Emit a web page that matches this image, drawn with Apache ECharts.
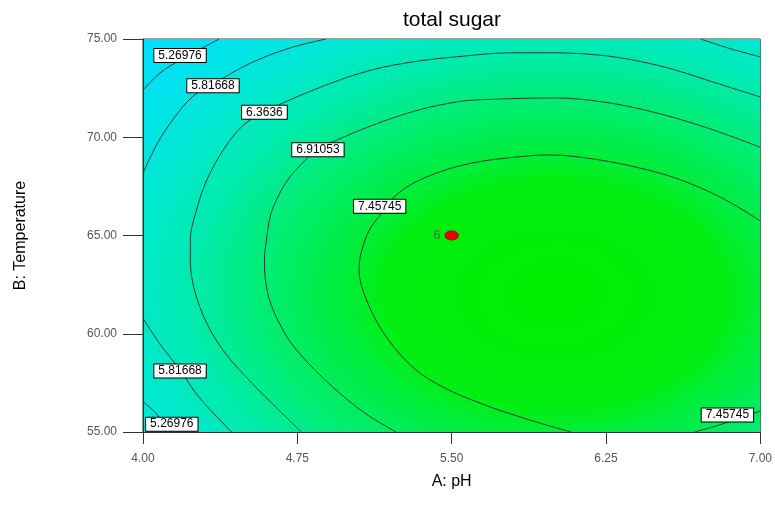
<!DOCTYPE html>
<html>
<head>
<meta charset="utf-8">
<title>total sugar</title>
<script src="https://cdn.jsdelivr.net/npm/echarts@6/dist/echarts.min.js"></script>
<style>
  html, body { margin: 0; padding: 0; background: #fff; }
  #chart { width: 775px; height: 518px; }
</style>
</head>
<body>
<div id="chart"></div>
<script>
// axis ticks
const pHTicks = [4.0, 4.75, 5.5, 6.25, 7.0];
const tempTicks = [55, 60, 65, 70, 75];

// contour lines, [pH, temperature]
const c526Top = [[4.00, 72.40], [4.08, 73.25], [4.18, 73.93], [4.27, 74.44], [4.37, 75.00]];
const c526Bottom = [[4.00, 56.54], [4.07, 55.87], [4.11, 55.00]];
const c582Top = [[4.00, 68.17], [4.07, 69.69], [4.15, 70.96], [4.24, 72.06], [4.36, 72.83],
  [4.52, 73.76], [4.71, 74.53], [4.89, 75.00]];
const c582Right = [[6.71, 75.00], [6.85, 74.52], [7.00, 74.09]];
const c582Bottom = [[4.00, 60.79], [4.08, 59.51], [4.18, 58.16], [4.27, 56.80], [4.43, 55.00]];
const c636 = [[4.77, 55.00], [4.66, 56.12], [4.53, 57.48], [4.40, 59.01], [4.31, 60.53],
  [4.25, 62.23], [4.23, 63.75], [4.23, 64.77], [4.26, 66.30], [4.31, 67.82], [4.39, 69.35],
  [4.48, 70.54], [4.59, 71.30], [4.89, 72.66], [5.11, 73.42], [5.32, 73.85],
  [5.53, 74.10], [5.79, 74.30], [5.97, 74.30], [6.16, 74.23], [6.34, 74.01], [6.56, 73.50],
  [6.77, 72.81], [7.00, 72.05]];
const c691 = [[5.23, 55.00], [5.08, 55.95], [4.92, 57.31], [4.76, 59.00], [4.68, 60.19],
  [4.61, 61.89], [4.59, 63.75], [4.60, 64.77], [4.62, 66.04], [4.66, 67.06], [4.71, 67.93],
  [4.78, 68.74], [4.84, 69.35], [4.98, 70.03], [5.14, 70.71], [5.34, 71.39], [5.53, 71.81],
  [5.64, 71.91], [6.00, 72.00], [6.24, 71.79], [6.48, 71.28], [6.73, 70.52], [7.00, 69.49]];
const c746 = [[6.08, 55.00], [5.88, 55.61], [5.64, 56.46], [5.43, 57.44], [5.29, 58.50],
  [5.16, 60.19], [5.08, 61.89], [5.05, 63.24], [5.06, 64.11], [5.10, 65.28], [5.16, 66.13],
  [5.24, 67.15], [5.38, 67.99], [5.59, 68.67], [5.83, 69.01], [5.98, 69.10], [6.19, 68.89],
  [6.40, 68.47], [6.60, 67.88], [6.81, 66.93], [7.00, 65.74]];
const c746Corner = [[6.68, 55.00], [6.81, 55.39], [7.00, 56.07]];

const contourLines = [c526Top, c526Bottom, c582Top, c582Right, c582Bottom, c636, c691, c746, c746Corner];

// contour level labels: [pH, temperature, level]
const levelLabels = [
  [4.18, 74.16, '5.26976'],
  [4.34, 72.62, '5.81668'],
  [4.59, 71.27, '6.3636'],
  [4.85, 69.37, '6.91053'],
  [5.15, 66.49, '7.45745'],
  [4.18, 58.11, '5.81668'],
  [4.14, 55.40, '5.26976'],
  [6.84, 55.87, '7.45745'],
];

// design point (centre runs)
const designPoints = [[5.5, 65, '6']];

// response surface centre used for the colour shading
const shadeCentre = [6.0, 62.0];
const plotExtent = [[4, 55, 7, 75]];

const FONT = 'Liberation Sans, Arial, sans-serif';

const chart = echarts.init(document.getElementById('chart'));

const shadeStops = [
  { offset: 0, color: '#00f000' },
  { offset: 0.3, color: '#00ef12' },
  { offset: 0.36, color: '#00ee36' },
  { offset: 0.52, color: '#00ed78' },
  { offset: 0.645, color: '#00ebb0' },
  { offset: 0.787, color: '#00e7dc' },
  { offset: 0.9, color: '#00e2f4' },
  { offset: 1, color: '#00dcff' },
];

const series = [
  {
    type: 'custom',
    silent: true,
    z: 0,
    data: plotExtent,
    renderItem(params, api) {
      const tl = api.coord([api.value(0), api.value(3)]);
      const br = api.coord([api.value(2), api.value(1)]);
      const c = api.coord(shadeCentre);
      const sx = 1.5;
      return {
        type: 'rect',
        shape: { x: c[0] + (tl[0] - c[0]) / sx, y: tl[1], width: (br[0] - tl[0]) / sx, height: br[1] - tl[1] },
        originX: c[0],
        originY: c[1],
        scaleX: sx,
        style: { fill: new echarts.graphic.RadialGradient(c[0], c[1], 380, shadeStops, true) },
      };
    },
  },
];

contourLines.forEach((pts) => {
  series.push({
    type: 'line',
    data: pts,
    smooth: 0.35,
    symbol: 'none',
    silent: true,
    z: 2,
    lineStyle: { color: '#2f3f2f', width: 1 },
  });
});

series.push({
  type: 'scatter',
  z: 4,
  silent: true,
  symbolSize: 1,
  itemStyle: { color: '#fff', opacity: 1 },
  data: levelLabels.map((d) => ({ value: [d[0], d[1]], name: d[2] })),
  label: {
    show: true,
    position: 'inside',
    formatter: '{b}',
    fontFamily: FONT,
    fontSize: 12,
    color: '#000',
    backgroundColor: '#fff',
    borderColor: '#000',
    borderWidth: 1,
    padding: [1, 4, 0, 4],
  },
});

series.push({
  type: 'scatter',
  z: 5,
  silent: true,
  symbol: 'circle',
  symbolSize: [13, 9],
  itemStyle: { color: '#f00000', borderColor: '#b00000', borderWidth: 1, opacity: 1 },
  data: designPoints.map((d) => ({ value: [d[0], d[1]], name: d[2] })),
  label: {
    show: true,
    position: 'left',
    distance: 4,
    formatter: '{b}',
    fontFamily: FONT,
    fontSize: 13,
    color: '#2e7d32',
  },
});

chart.setOption({
  animation: false,
  backgroundColor: '#fff',
  graphic: [{
    type: 'text',
    x: 452,
    y: 20,
    style: { text: 'total sugar', fontFamily: FONT, fontSize: 21, fill: '#000', align: 'center', verticalAlign: 'middle' },
  }],
  grid: {
    left: 143, right: 10, top: 39, bottom: 86,
    show: true, borderColor: '#333', borderWidth: 1,
  },
  xAxis: {
    type: 'value',
    min: pHTicks[0],
    max: pHTicks[pHTicks.length - 1],
    interval: pHTicks[1] - pHTicks[0],
    name: 'A: pH',
    nameLocation: 'middle',
    nameGap: 42,
    nameTextStyle: { fontFamily: FONT, fontSize: 16, color: '#000' },
    axisLine: { lineStyle: { color: '#333' } },
    axisTick: { length: 12, lineStyle: { color: '#333' } },
    axisLabel: { fontFamily: FONT, fontSize: 12, color: '#555', margin: 21, formatter: (v) => v.toFixed(2) },
    splitLine: { show: false },
  },
  yAxis: {
    type: 'value',
    min: tempTicks[0],
    max: tempTicks[tempTicks.length - 1],
    interval: tempTicks[1] - tempTicks[0],
    name: 'B: Temperature',
    nameLocation: 'middle',
    nameGap: 114,
    nameTextStyle: { fontFamily: FONT, fontSize: 16, color: '#000' },
    axisLine: { show: true, lineStyle: { color: '#333' } },
    axisTick: { show: true, length: 20, lineStyle: { color: '#333' } },
    axisLabel: { fontFamily: FONT, fontSize: 12, color: '#555', margin: 26, formatter: (v) => v.toFixed(2) },
    splitLine: { show: false },
  },
  series,
});
</script>
</body>
</html>
